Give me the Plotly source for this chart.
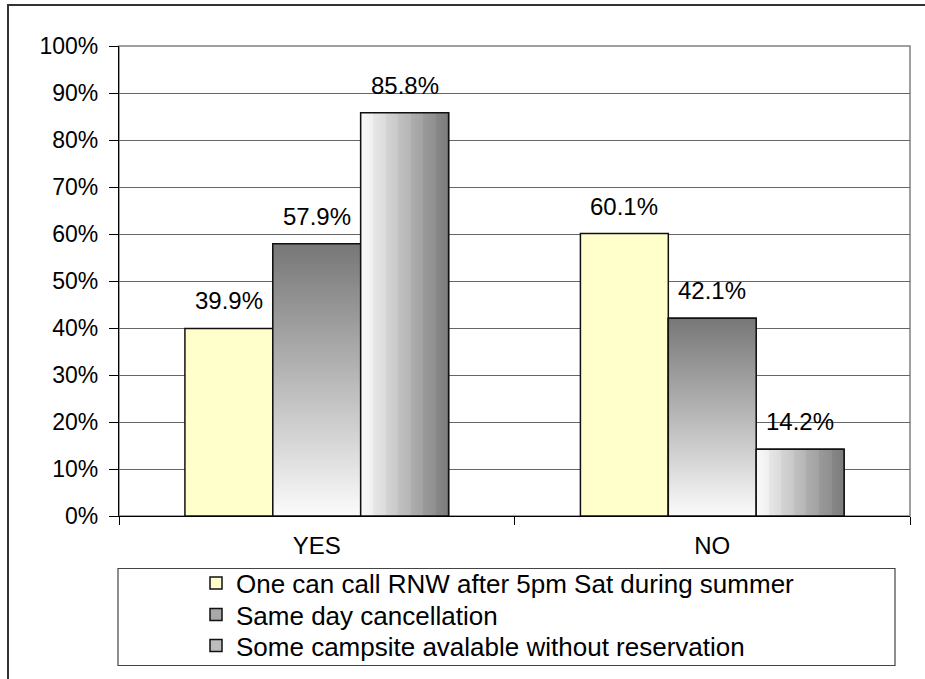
import plotly.graph_objects as go

# ---- data -------------------------------------------------------------
categories = ["YES", "NO"]
series_names = [
    "One can call RNW after 5pm Sat during summer",
    "Same day cancellation",
    "Some campsite avalable without reservation",
]
call_after_5pm = [39.9, 60.1]
same_day_cancel = [57.9, 42.1]
campsite_no_reservation = [85.8, 14.2]
y_tick_values = list(range(0, 101, 10))

series_values = [call_after_5pm, same_day_cancel, campsite_no_reservation]

# ---- styling ----------------------------------------------------------
FONT = "Liberation Sans, Arial, sans-serif"
W, H = 925, 679
M_L, M_R, M_T, M_B = 119, 15, 46, 163
PLOT_W = W - M_L - M_R
PLOT_H = H - M_T - M_B

BARGAP = 1 / 3
N_SERIES = len(series_values)
BAR_W = (1 - BARGAP) / N_SERIES

legend_fill = ["#FFFFCC", "#a8a8a8", "#bcbcbc"]

# vertical gradient: white at the base, dark grey at the top
vertical_scale = [[0.0, "#fbfbfb"], [0.5, "#b8b8b8"], [1.0, "#777777"]]


# horizontal banded gradient: white on the left, dark grey on the right
def banded_scale(start, end, bands):
    scale = []
    step = (end - start) / bands
    for k in range(bands):
        a = round(start + step * k)
        b = round(start + step * (k + 0.6))
        scale.append([k / bands, f"rgb({a},{a},{a})"])
        scale.append([(k + 1) / bands, f"rgb({b},{b},{b})"])
    return scale


horizontal_scale = banded_scale(250, 116, 7)
gradients = [
    None,
    dict(type="vertical", colorscale=vertical_scale),
    dict(type="horizontal", colorscale=horizontal_scale),
]


def px_to_paper_x(px):
    return (px - M_L) / PLOT_W


def px_to_paper_y(py):
    return (H - M_B - py) / PLOT_H


x_pos = list(range(len(categories)))
legend_ids = ["legend", "legend2", "legend3"]
legend_rows_px = [583, 614.5, 645.5]

fig = go.Figure()

# base bars (also provide the legend entries)
for i, (name, vals) in enumerate(zip(series_names, series_values)):
    fig.add_trace(
        go.Bar(
            x=x_pos,
            y=vals,
            name=name,
            legend=legend_ids[i],
            marker=dict(color=legend_fill[i], line=dict(color="#111111", width=1.5)),
            hoverinfo="name+y",
        )
    )

# gradient fills laid over the grey bars
for i, (vals, grad) in enumerate(zip(series_values, gradients)):
    if grad is None:
        continue
    for c, v in zip(x_pos, vals):
        x0 = c + (i - N_SERIES / 2) * BAR_W
        x1 = x0 + BAR_W
        fig.add_trace(
            go.Scatter(
                x=[x0, x1, x1, x0, x0],
                y=[0, 0, v, v, 0],
                mode="lines",
                fill="toself",
                fillgradient=grad,
                line=dict(color="#111111", width=1.5),
                showlegend=False,
                hoverinfo="skip",
            )
        )

# value labels above each bar
for i, vals in enumerate(series_values):
    for c, v in zip(x_pos, vals):
        xc = c + (i - (N_SERIES - 1) / 2) * BAR_W
        fig.add_annotation(
            x=xc,
            y=v,
            text=f"{v:.1f}%",
            showarrow=False,
            yanchor="bottom",
            yshift=12,
            font=dict(family=FONT, size=24, color="#000000"),
        )

# outer chart frame (top/left edges visible)
fig.add_shape(
    type="rect", xref="paper", yref="paper",
    x0=px_to_paper_x(8), x1=px_to_paper_x(W + 40),
    y0=px_to_paper_y(H + 40), y1=px_to_paper_y(5),
    line=dict(color="#333333", width=2), layer="below",
)
# plot-area frame
fig.add_shape(
    type="rect", xref="paper", yref="paper", x0=0, x1=1, y0=0, y1=1,
    line=dict(color="#808080", width=1.5), layer="below",
)
# legend frame
fig.add_shape(
    type="rect", xref="paper", yref="paper",
    x0=px_to_paper_x(118), x1=px_to_paper_x(895),
    y0=px_to_paper_y(665.5), y1=px_to_paper_y(568.5),
    line=dict(color="#444444", width=1.2), layer="below",
)

legend_style = dict(
    xanchor="left",
    yanchor="middle",
    bgcolor="rgba(0,0,0,0)",
    borderwidth=0,
    font=dict(family=FONT, size=26, color="#000000"),
)

fig.update_layout(
    width=W,
    height=H,
    margin=dict(l=M_L, r=M_R, t=M_T, b=M_B, pad=0, autoexpand=False),
    paper_bgcolor="white",
    plot_bgcolor="white",
    barmode="group",
    bargap=BARGAP,
    bargroupgap=0,
    font=dict(family=FONT, color="#000000"),
    showlegend=True,
    xaxis=dict(
        range=[-0.5, len(categories) - 0.5],
        tickmode="array",
        tickvals=x_pos,
        ticktext=categories,
        ticks="outside",
        ticklen=8,
        tickcolor="rgba(0,0,0,0)",
        tickfont=dict(family=FONT, size=24, color="#000000"),
        showgrid=False,
        zeroline=False,
        showline=True,
        linecolor="#000000",
        linewidth=1.2,
        minor=dict(
            tickmode="array",
            tickvals=[c - 0.5 for c in x_pos] + [x_pos[-1] + 0.5],
            ticks="outside",
            ticklen=8,
            tickcolor="#000000",
            tickwidth=1.2,
            showgrid=False,
        ),
        fixedrange=True,
    ),
    yaxis=dict(
        range=[0, 100],
        tickmode="array",
        tickvals=y_tick_values,
        ticktext=[f"{t}%" for t in y_tick_values],
        ticks="outside",
        ticklen=9,
        tickcolor="#000000",
        tickwidth=1.2,
        ticklabelstandoff=6,
        tickfont=dict(family=FONT, size=23, color="#000000"),
        showgrid=True,
        gridcolor="#666666",
        gridwidth=1,
        zeroline=False,
        showline=True,
        linecolor="#000000",
        linewidth=1.2,
        fixedrange=True,
    ),
)

for lid, row in zip(legend_ids, legend_rows_px):
    fig.update_layout(
        {lid: dict(legend_style, x=px_to_paper_x(196), y=px_to_paper_y(row))}
    )

fig.write_html("out.html")
